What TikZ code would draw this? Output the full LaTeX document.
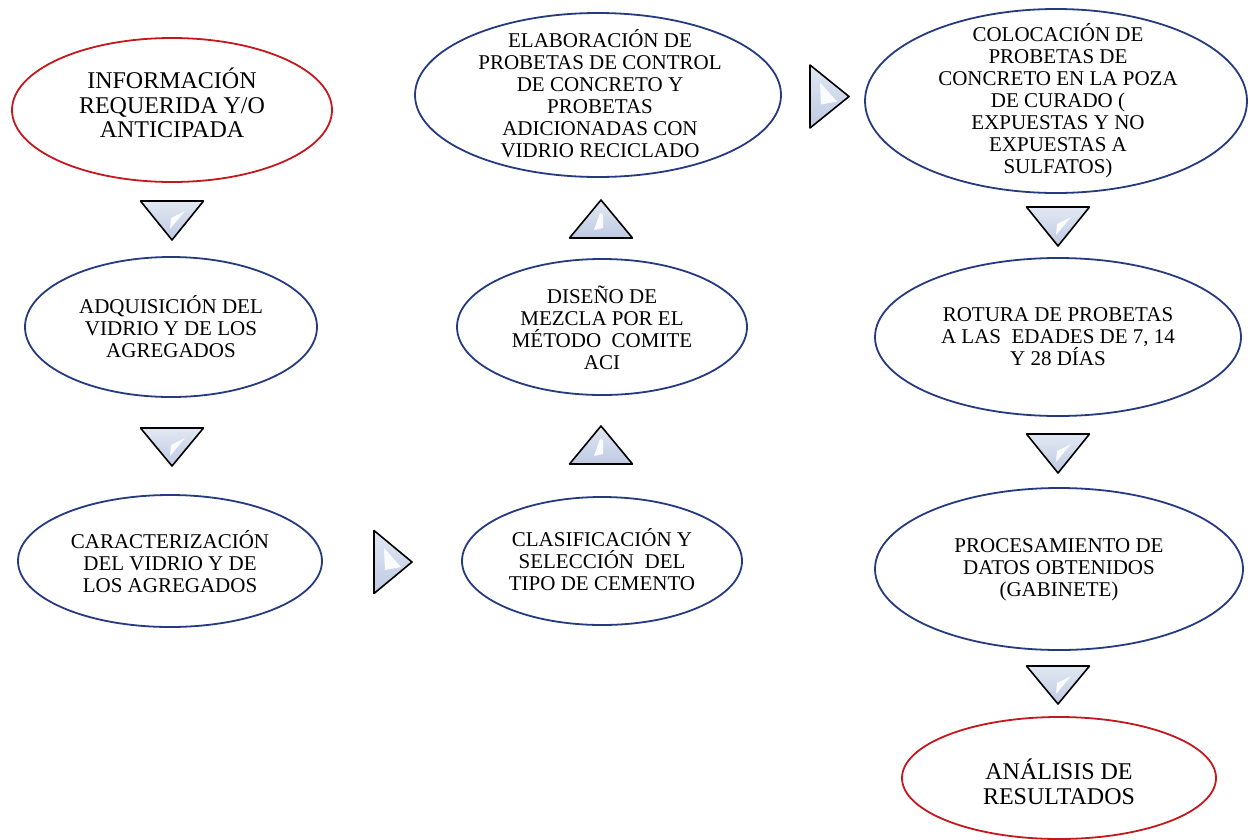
\documentclass[tikz,border=0pt]{standalone}
\usepackage{fontspec}
\setmainfont{Liberation Serif}
\usetikzlibrary{shapes.geometric}
\definecolor{navy}{RGB}{38,58,128}
\definecolor{redline}{RGB}{196,24,30}
\definecolor{trifill}{RGB}{190,202,226}
\definecolor{trilight}{RGB}{226,232,243}
\tikzset{
  oval/.style={ellipse, draw=navy, line width=1.8pt, fill=white, inner sep=0pt},
  redoval/.style={oval, draw=redline},
  txt/.style={align=center, inner sep=0pt, font=\fontsize{21}{22}\selectfont},
  bigtxt/.style={txt, font=\fontsize{24}{24.5}\selectfont},
  tri/.style={draw=black, line width=1.6pt, line join=round, top color=trilight, bottom color=trifill},
  shine/.style={fill=white, opacity=0.9},
}
\newcommand{\tridown}[3]{%
  \draw[tri] (#1-31.5,#2) -- (#1+31.5,#2) -- (#1,#3) -- cycle;
  \fill[shine] (#1+13,#2+10) -- (#1-1,#2+17) -- (#1-2,#2+28) -- cycle;}
\newcommand{\triup}[3]{%
  \draw[tri] (#1,#2) -- (#1+31.5,#3) -- (#1-31.5,#3) -- cycle;
  \fill[shine] (#1-1,#2+13) -- (#1+2,#2+14) -- (#1+2,#2+28) -- (#1-7,#2+30) -- cycle;}
\newcommand{\triright}[3]{%
  \draw[tri] (#1,#2-31.5) -- (#3,#2) -- (#1,#2+31.5) -- cycle;
  \fill[shine] (#1+10,#2-14) -- (#1+27,#2+5) -- (#1+11,#2+8) -- cycle;}
\begin{document}
\begin{tikzpicture}[x=1pt,y=-1pt]
\useasboundingbox (0,0) rectangle (1253,839);
\fill[white] (0,0) rectangle (1253,839);

% left column
\node[redoval, minimum width=320pt, minimum height=144pt] (e1) at (172,110) {};
\node[bigtxt] (t1) at (172,103) {INFORMACIÓN\\REQUERIDA Y/O\\ANTICIPADA};
\node[oval, minimum width=292pt, minimum height=140pt] (e2) at (171,327) {};
\node[txt] (t2) at (171,327) {ADQUISICIÓN DEL\\VIDRIO Y DE LOS\\AGREGADOS};
\node[oval, minimum width=304pt, minimum height=132pt] (e3) at (170,561) {};
\node[txt] (t3) at (170,562) {CARACTERIZACIÓN\\DEL VIDRIO Y DE\\LOS AGREGADOS};

% middle column
\node[oval, minimum width=280pt, minimum height=128pt] (e4) at (602,561) {};
\node[txt] (t4) at (602,560) {CLASIFICACIÓN Y\\SELECCIÓN\ \ DEL\\TIPO DE CEMENTO};
\node[oval, minimum width=290pt, minimum height=136pt] (e5) at (602,327) {};
\node[txt] (t5) at (602,328) {DISEÑO DE\\MEZCLA POR EL\\MÉTODO\ \ COMITE\\ACI};
\node[oval, minimum width=366pt, minimum height=164pt] (e6) at (598,95) {};
\node[txt] (t6) at (600,94) {ELABORACIÓN DE\\PROBETAS DE CONTROL\\DE CONCRETO Y\\PROBETAS\\ADICIONADAS CON\\VIDRIO RECICLADO};

% right column
\node[oval, minimum width=382pt, minimum height=184pt] (e7) at (1056,101) {};
\node[txt] (t7) at (1058,101) {COLOCACIÓN DE\\PROBETAS DE\\CONCRETO EN LA POZA\\DE CURADO (\\EXPUESTAS Y NO\\EXPUESTAS A\\SULFATOS)};
\node[oval, minimum width=366pt, minimum height=158pt] (e8) at (1058,337) {};
\node[txt] (t8) at (1058,337) {ROTURA DE PROBETAS\\A LAS\ \ EDADES DE 7, 14\\Y 28 DÍAS};
\node[oval, minimum width=368pt, minimum height=162pt] (e9) at (1059,569) {};
\node[txt] (t9) at (1059,570) {PROCESAMIENTO DE\\DATOS OBTENIDOS\\(GABINETE)};
\node[redoval, minimum width=314pt, minimum height=122pt] (e10) at (1059,778) {};
\node[bigtxt] (t10) at (1059,782) {ANÁLISIS DE\\RESULTADOS};

% arrow triangles
\tridown{172}{201}{240}
\tridown{172}{428}{466}
\triright{374}{562}{412}
\triup{601}{426}{464}
\triup{601}{200}{238}
\triright{810}{96.5}{849}
\tridown{1058}{207}{246}
\tridown{1058}{434}{473}
\tridown{1058}{666}{704}
\end{tikzpicture}
\end{document}
